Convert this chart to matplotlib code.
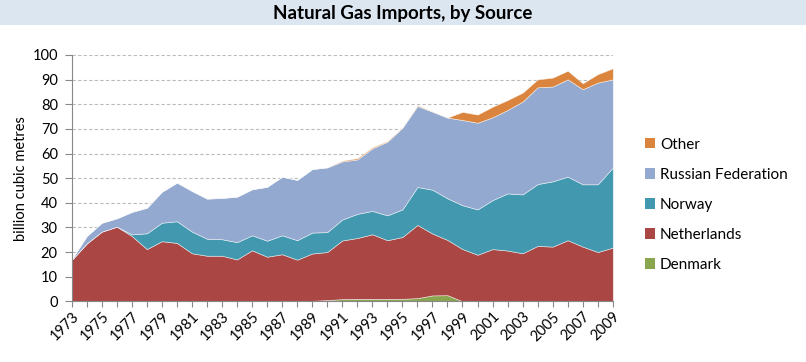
import matplotlib
matplotlib.use("Agg")
import matplotlib.pyplot as plt
import numpy as np
from matplotlib.patches import Patch, Rectangle

years = list(range(1973, 2010))

denmark = [0]*11 + [0.1, 0.2, 0.2, 0.2, 0.2, 0.2, 0.5, 0.9, 1.0, 1.0, 1.0, 1.0, 1.3, 2.4, 2.5] + [0]*11

netherlands = [16.8, 23.5, 28.3, 30.3, 26.5, 21.2, 24.4, 23.7, 19.5, 18.5, 18.5, 16.9, 20.5,
               17.9, 18.9, 16.7, 19.2, 19.5, 23.8, 24.7, 26.2, 23.8, 25.1, 29.7, 25.1, 22.4,
               21.2, 18.9, 21.2, 20.6, 19.5, 22.5, 22.2, 24.8, 22.2, 20.0, 21.8]

norway = [0, 0, 0, 0, 0.7, 6.4, 7.5, 8.8, 8.8, 6.9, 6.7, 7.0, 6.1, 6.5, 7.7, 7.9, 8.5, 8.1,
          8.5, 9.8, 9.5, 10.1, 11.2, 15.4, 17.8, 16.9, 17.8, 18.4, 19.9, 23.2, 23.9, 25.1,
          26.5, 25.8, 25.3, 27.5, 32.5]

russia = [0.3, 3.0, 3.6, 3.4, 9.1, 10.4, 12.6, 15.7, 16.5, 16.3, 16.8, 18.5, 18.7, 21.9,
          23.8, 24.5, 25.8, 26.3, 23.6, 22.1, 25.4, 29.9, 33.2, 32.9, 31.7, 32.8, 34.6,
          35.2, 33.6, 33.9, 37.7, 39.3, 38.5, 39.5, 38.6, 41.3, 35.8]

other = [0]*18 + [0.3, 0.5, 0.4, 0.3, 0.1, 0.3, 0.1, 0.0, 3.3, 3.3, 4.3, 4.0, 3.6, 3.2,
                  3.6, 3.5, 2.4, 3.4, 4.5]

series_names = ["Denmark", "Netherlands", "Norway", "Russian Federation", "Other"]
colors = ["#89A54E", "#AA4643", "#4198AF", "#93A9CF", "#DB843D"]

title = "Natural Gas Imports, by Source"
ylabel = "billion cubic metres"

plt.rcParams['font.family'] = ['Lato', 'DejaVu Sans']

fig = plt.figure(figsize=(8.06, 3.62), dpi=100)
# title band
fig.patches.append(Rectangle((0, 1 - 25/362), 1, 25/362, transform=fig.transFigure,
                             facecolor="#DCE6F1", edgecolor="none", zorder=0))
fig.text(0.5, 1 - 13/362, title, ha="center", va="center", fontsize=13.5, fontweight="bold")

ax = fig.add_axes([71.7/806, 1 - 301.3/362, (612.8 - 71.7)/806, (301.3 - 55)/362])
ax.stackplot(years, denmark, netherlands, norway, russia, other, colors=colors,
             edgecolor=(1, 1, 1, 0.6), linewidth=0.5)

ax.set_xlim(1973, 2009)
ax.set_ylim(0, 100)
ax.set_yticks(range(0, 101, 10))
ax.set_xticks(years)
ax.set_xticklabels([str(y) if (y - 1973) % 2 == 0 else "" for y in years],
                   rotation=45, ha="right", rotation_mode="anchor", fontsize=10.5)
ax.tick_params(axis="x", length=4, color="#888888", pad=2)
ax.tick_params(axis="y", length=5, color="#888888", labelsize=10.5, pad=5)
for y in range(10, 101, 10):
    ax.axhline(y, color="#BBBBBB", linestyle=(0, (3, 2)), linewidth=0.8, zorder=0)
ax.set_axisbelow(True)
for s in ["top", "right"]:
    ax.spines[s].set_visible(False)
for s in ["left", "bottom"]:
    ax.spines[s].set_color("#888888")
ax.spines["bottom"].set_zorder(5)
ax.set_ylabel(ylabel, fontsize=10.5)
ax.yaxis.set_label_coords((28 - 71.7) / 541.1, 0.5)

handles = [Patch(facecolor=c, edgecolor="none") for c in colors[::-1]]
fig.legend(handles, series_names[::-1], loc="upper left",
           bbox_to_anchor=(631/806, 1 - 124/362), frameon=False, fontsize=11,
           handlelength=0.65, handleheight=0.65, handletextpad=0.35, labelspacing=1.05)

fig.savefig("out.png", dpi=100)
